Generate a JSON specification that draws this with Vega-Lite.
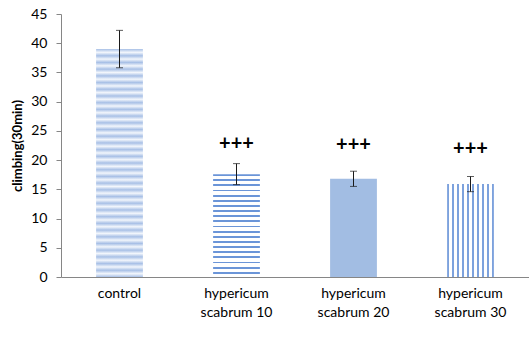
{
  "$schema": "https://vega.github.io/schema/vega-lite/v6.json",
  "autosize": "none",
  "width": 468,
  "height": 263,
  "padding": {"left": 61, "top": 14, "right": 0, "bottom": 75},
  "background": "#ffffff",
  "config": {"view": {"stroke": null}, "font": "Lato"},
  "data": {"values": [
    {"group": "control", "mean": 39.0, "err": 3.2},
    {"group": "hypericum scabrum 10", "mean": 17.6, "err": 1.8, "sig": "+++", "sig_y": 22.8},
    {"group": "hypericum scabrum 20", "mean": 16.8, "err": 1.3, "sig": "+++", "sig_y": 22.6},
    {"group": "hypericum scabrum 30", "mean": 15.9, "err": 1.3, "sig": "+++", "sig_y": 21.9}
  ]},
  "encoding": {
    "x": {
      "field": "group", "type": "nominal", "sort": null,
      "scale": {"paddingInner": 0.6, "paddingOuter": 0.3},
      "axis": {
        "title": null, "labelAngle": 0, "ticks": false,
        "domainColor": "#868686", "labelColor": "#000000",
        "labelFont": "Lato", "labelFontSize": 14, "labelPadding": 9,
        "labelLineHeight": 19, "labelBaseline": "top",
        "labelExpr": "indexof(datum.label, ' ') > 0 ? [substring(datum.label, 0, indexof(datum.label, ' ')), substring(datum.label, indexof(datum.label, ' ') + 1)] : datum.label"
      }
    },
    "y": {"field": "mean", "type": "quantitative", "scale": {"domain": [0, 45]},
      "axis": {"values": [0, 5, 10, 15, 20, 25, 30, 35, 40, 45], "grid": false,
        "domainColor": "#868686", "tickColor": "#868686", "tickSize": 5,
        "labelColor": "#000000", "labelFont": "Lato", "labelFontSize": 14, "labelPadding": 9,
        "title": "climbing(30min)", "titleFont": "Lato", "titleFontSize": 13, "titleFontWeight": "bold",
        "titleColor": "#000000", "titlePadding": 6}}
  },
  "layer": [
    {
      "transform": [{"filter": "datum.group == 'control'"}],
      "mark": {"type": "bar", "color": {"gradient": "linear", "x1": 0, "y1": 0, "x2": 0, "y2": 1, "stops": [
        {"offset": 0, "color": "#a8c0e6"}, {"offset": 0.0147, "color": "#f2f6fc"},
        {"offset": 0.0294, "color": "#a8c0e6"}, {"offset": 0.0441, "color": "#f2f6fc"},
        {"offset": 0.0588, "color": "#a8c0e6"}, {"offset": 0.0735, "color": "#f2f6fc"},
        {"offset": 0.0882, "color": "#a8c0e6"}, {"offset": 0.1029, "color": "#f2f6fc"},
        {"offset": 0.1176, "color": "#a8c0e6"}, {"offset": 0.1324, "color": "#f2f6fc"},
        {"offset": 0.1471, "color": "#a8c0e6"}, {"offset": 0.1618, "color": "#f2f6fc"},
        {"offset": 0.1765, "color": "#a8c0e6"}, {"offset": 0.1912, "color": "#f2f6fc"},
        {"offset": 0.2059, "color": "#a8c0e6"}, {"offset": 0.2206, "color": "#f2f6fc"},
        {"offset": 0.2353, "color": "#a8c0e6"}, {"offset": 0.25, "color": "#f2f6fc"},
        {"offset": 0.2647, "color": "#a8c0e6"}, {"offset": 0.2794, "color": "#f2f6fc"},
        {"offset": 0.2941, "color": "#a8c0e6"}, {"offset": 0.3088, "color": "#f2f6fc"},
        {"offset": 0.3235, "color": "#a8c0e6"}, {"offset": 0.3382, "color": "#f2f6fc"},
        {"offset": 0.3529, "color": "#a8c0e6"}, {"offset": 0.3676, "color": "#f2f6fc"},
        {"offset": 0.3824, "color": "#a8c0e6"}, {"offset": 0.3971, "color": "#f2f6fc"},
        {"offset": 0.4118, "color": "#a8c0e6"}, {"offset": 0.4265, "color": "#f2f6fc"},
        {"offset": 0.4412, "color": "#a8c0e6"}, {"offset": 0.4559, "color": "#f2f6fc"},
        {"offset": 0.4706, "color": "#a8c0e6"}, {"offset": 0.4853, "color": "#f2f6fc"},
        {"offset": 0.5, "color": "#a8c0e6"}, {"offset": 0.5147, "color": "#f2f6fc"},
        {"offset": 0.5294, "color": "#a8c0e6"}, {"offset": 0.5441, "color": "#f2f6fc"},
        {"offset": 0.5588, "color": "#a8c0e6"}, {"offset": 0.5735, "color": "#f2f6fc"},
        {"offset": 0.5882, "color": "#a8c0e6"}, {"offset": 0.6029, "color": "#f2f6fc"},
        {"offset": 0.6176, "color": "#a8c0e6"}, {"offset": 0.6324, "color": "#f2f6fc"},
        {"offset": 0.6471, "color": "#a8c0e6"}, {"offset": 0.6618, "color": "#f2f6fc"},
        {"offset": 0.6765, "color": "#a8c0e6"}, {"offset": 0.6912, "color": "#f2f6fc"},
        {"offset": 0.7059, "color": "#a8c0e6"}, {"offset": 0.7206, "color": "#f2f6fc"},
        {"offset": 0.7353, "color": "#a8c0e6"}, {"offset": 0.75, "color": "#f2f6fc"},
        {"offset": 0.7647, "color": "#a8c0e6"}, {"offset": 0.7794, "color": "#f2f6fc"},
        {"offset": 0.7941, "color": "#a8c0e6"}, {"offset": 0.8088, "color": "#f2f6fc"},
        {"offset": 0.8235, "color": "#a8c0e6"}, {"offset": 0.8382, "color": "#f2f6fc"},
        {"offset": 0.8529, "color": "#a8c0e6"}, {"offset": 0.8676, "color": "#f2f6fc"},
        {"offset": 0.8824, "color": "#a8c0e6"}, {"offset": 0.8971, "color": "#f2f6fc"},
        {"offset": 0.9118, "color": "#a8c0e6"}, {"offset": 0.9265, "color": "#f2f6fc"},
        {"offset": 0.9412, "color": "#a8c0e6"}, {"offset": 0.9559, "color": "#f2f6fc"},
        {"offset": 0.9706, "color": "#a8c0e6"}, {"offset": 0.9853, "color": "#f2f6fc"},
        {"offset": 1, "color": "#a8c0e6"}
      ]}}
    },
    {
      "transform": [{"filter": "datum.group == 'hypericum scabrum 10'"}],
      "mark": {"type": "bar", "color": {"gradient": "linear", "x1": 0, "y1": 0, "x2": 0, "y2": 1, "stops": [
        {"offset": 0, "color": "#6b95d8"}, {"offset": 0.018, "color": "#6b95d8"}, {"offset": 0.018, "color": "#ffffff"}, {"offset": 0.05, "color": "#ffffff"},
        {"offset": 0.05, "color": "#6b95d8"}, {"offset": 0.068, "color": "#6b95d8"}, {"offset": 0.068, "color": "#ffffff"}, {"offset": 0.1, "color": "#ffffff"},
        {"offset": 0.1, "color": "#6b95d8"}, {"offset": 0.118, "color": "#6b95d8"}, {"offset": 0.118, "color": "#ffffff"}, {"offset": 0.15, "color": "#ffffff"},
        {"offset": 0.15, "color": "#6b95d8"}, {"offset": 0.168, "color": "#6b95d8"}, {"offset": 0.168, "color": "#ffffff"}, {"offset": 0.2, "color": "#ffffff"},
        {"offset": 0.2, "color": "#6b95d8"}, {"offset": 0.218, "color": "#6b95d8"}, {"offset": 0.218, "color": "#ffffff"}, {"offset": 0.25, "color": "#ffffff"},
        {"offset": 0.25, "color": "#6b95d8"}, {"offset": 0.268, "color": "#6b95d8"}, {"offset": 0.268, "color": "#ffffff"}, {"offset": 0.3, "color": "#ffffff"},
        {"offset": 0.3, "color": "#6b95d8"}, {"offset": 0.318, "color": "#6b95d8"}, {"offset": 0.318, "color": "#ffffff"}, {"offset": 0.35, "color": "#ffffff"},
        {"offset": 0.35, "color": "#6b95d8"}, {"offset": 0.368, "color": "#6b95d8"}, {"offset": 0.368, "color": "#ffffff"}, {"offset": 0.4, "color": "#ffffff"},
        {"offset": 0.4, "color": "#6b95d8"}, {"offset": 0.418, "color": "#6b95d8"}, {"offset": 0.418, "color": "#ffffff"}, {"offset": 0.45, "color": "#ffffff"},
        {"offset": 0.45, "color": "#6b95d8"}, {"offset": 0.468, "color": "#6b95d8"}, {"offset": 0.468, "color": "#ffffff"}, {"offset": 0.5, "color": "#ffffff"},
        {"offset": 0.5, "color": "#6b95d8"}, {"offset": 0.518, "color": "#6b95d8"}, {"offset": 0.518, "color": "#ffffff"}, {"offset": 0.55, "color": "#ffffff"},
        {"offset": 0.55, "color": "#6b95d8"}, {"offset": 0.568, "color": "#6b95d8"}, {"offset": 0.568, "color": "#ffffff"}, {"offset": 0.6, "color": "#ffffff"},
        {"offset": 0.6, "color": "#6b95d8"}, {"offset": 0.618, "color": "#6b95d8"}, {"offset": 0.618, "color": "#ffffff"}, {"offset": 0.65, "color": "#ffffff"},
        {"offset": 0.65, "color": "#6b95d8"}, {"offset": 0.668, "color": "#6b95d8"}, {"offset": 0.668, "color": "#ffffff"}, {"offset": 0.7, "color": "#ffffff"},
        {"offset": 0.7, "color": "#6b95d8"}, {"offset": 0.718, "color": "#6b95d8"}, {"offset": 0.718, "color": "#ffffff"}, {"offset": 0.75, "color": "#ffffff"},
        {"offset": 0.75, "color": "#6b95d8"}, {"offset": 0.768, "color": "#6b95d8"}, {"offset": 0.768, "color": "#ffffff"}, {"offset": 0.8, "color": "#ffffff"},
        {"offset": 0.8, "color": "#6b95d8"}, {"offset": 0.818, "color": "#6b95d8"}, {"offset": 0.818, "color": "#ffffff"}, {"offset": 0.85, "color": "#ffffff"},
        {"offset": 0.85, "color": "#6b95d8"}, {"offset": 0.868, "color": "#6b95d8"}, {"offset": 0.868, "color": "#ffffff"}, {"offset": 0.9, "color": "#ffffff"},
        {"offset": 0.9, "color": "#6b95d8"}, {"offset": 0.918, "color": "#6b95d8"}, {"offset": 0.918, "color": "#ffffff"}, {"offset": 0.95, "color": "#ffffff"},
        {"offset": 0.95, "color": "#6b95d8"}, {"offset": 0.968, "color": "#6b95d8"}, {"offset": 0.968, "color": "#ffffff"}, {"offset": 1, "color": "#ffffff"}
      ]}}
    },
    {
      "transform": [{"filter": "datum.group == 'hypericum scabrum 20'"}],
      "mark": {"type": "bar", "color": "#a2bde3"}
    },
    {
      "transform": [{"filter": "datum.group == 'hypericum scabrum 30'"}],
      "mark": {"type": "bar", "color": {"gradient": "linear", "x1": 0, "y1": 0, "x2": 1, "y2": 0, "stops": [
        {"offset": 0, "color": "#7da2dd"}, {"offset": 0.035, "color": "#7da2dd"}, {"offset": 0.035, "color": "#ffffff"}, {"offset": 0.1072, "color": "#ffffff"},
        {"offset": 0.1072, "color": "#7da2dd"}, {"offset": 0.1422, "color": "#7da2dd"}, {"offset": 0.1422, "color": "#ffffff"}, {"offset": 0.2144, "color": "#ffffff"},
        {"offset": 0.2144, "color": "#7da2dd"}, {"offset": 0.2494, "color": "#7da2dd"}, {"offset": 0.2494, "color": "#ffffff"}, {"offset": 0.3217, "color": "#ffffff"},
        {"offset": 0.3217, "color": "#7da2dd"}, {"offset": 0.3567, "color": "#7da2dd"}, {"offset": 0.3567, "color": "#ffffff"}, {"offset": 0.4289, "color": "#ffffff"},
        {"offset": 0.4289, "color": "#7da2dd"}, {"offset": 0.4639, "color": "#7da2dd"}, {"offset": 0.4639, "color": "#ffffff"}, {"offset": 0.5361, "color": "#ffffff"},
        {"offset": 0.5361, "color": "#7da2dd"}, {"offset": 0.5711, "color": "#7da2dd"}, {"offset": 0.5711, "color": "#ffffff"}, {"offset": 0.6433, "color": "#ffffff"},
        {"offset": 0.6433, "color": "#7da2dd"}, {"offset": 0.6783, "color": "#7da2dd"}, {"offset": 0.6783, "color": "#ffffff"}, {"offset": 0.7506, "color": "#ffffff"},
        {"offset": 0.7506, "color": "#7da2dd"}, {"offset": 0.7856, "color": "#7da2dd"}, {"offset": 0.7856, "color": "#ffffff"}, {"offset": 0.8578, "color": "#ffffff"},
        {"offset": 0.8578, "color": "#7da2dd"}, {"offset": 0.8928, "color": "#7da2dd"}, {"offset": 0.8928, "color": "#ffffff"}, {"offset": 0.965, "color": "#ffffff"},
        {"offset": 0.965, "color": "#7da2dd"}, {"offset": 1, "color": "#7da2dd"}
      ]}}
    },
    {
      "mark": {"type": "errorbar", "ticks": {"size": 7, "color": "#1a1a1a", "thickness": 1}, "rule": {"color": "#1a1a1a", "strokeWidth": 1}},
      "encoding": {
        "yError": {"field": "err"}
      }
    },
    {
      "transform": [{"filter": "isValid(datum.sig)"}],
      "mark": {"type": "text", "font": "Lato", "fontSize": 20, "fontWeight": "bold", "color": "#000000", "baseline": "middle", "align": "center"},
      "encoding": {
        "y": {"field": "sig_y", "type": "quantitative", "scale": {"domain": [0, 45]},
          "axis": {"values": [0, 5, 10, 15, 20, 25, 30, 35, 40, 45], "grid": false,
            "domainColor": "#868686", "tickColor": "#868686", "tickSize": 5,
            "labelColor": "#000000", "labelFont": "Lato", "labelFontSize": 14, "labelPadding": 9,
            "title": "climbing(30min)", "titleFont": "Lato", "titleFontSize": 13, "titleFontWeight": "bold",
            "titleColor": "#000000", "titlePadding": 6}},
        "text": {"field": "sig"}
      }
    }
  ]
}
